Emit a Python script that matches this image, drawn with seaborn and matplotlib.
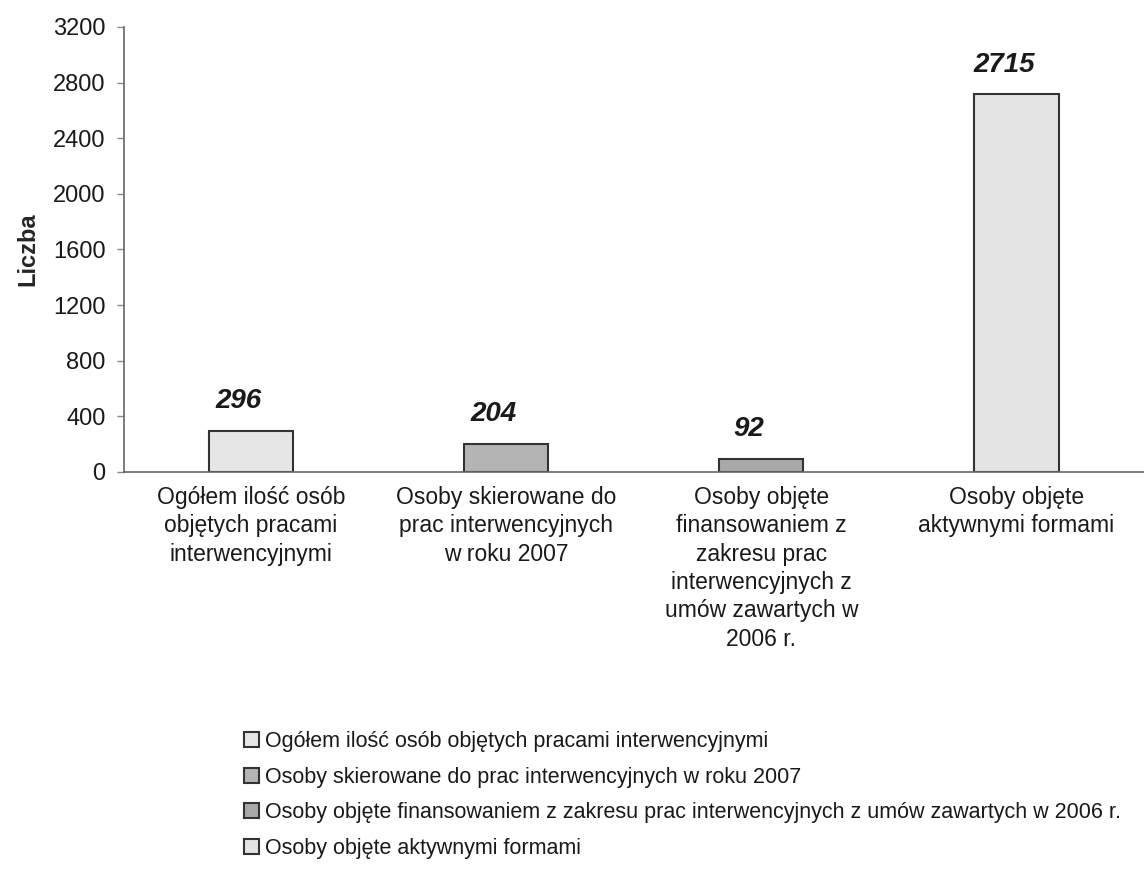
"""
Wykres słupkowy - osoby objęte pracami interwencyjnymi.
"""
import matplotlib
matplotlib.use("Agg")
import matplotlib.pyplot as plt
import pandas as pd
import seaborn as sns

# ── Dane ───────────────────────────────────────────────────────
CATEGORIES = [
    "Ogółem ilość osób objętych pracami interwencyjnymi",
    "Osoby skierowane do prac interwencyjnych w roku 2007",
    "Osoby objęte finansowaniem z zakresu prac interwencyjnych z umów zawartych w 2006 r.",
    "Osoby objęte aktywnymi formami",
]
TICK_LABELS = [
    "Ogółem ilość osób\nobjętych pracami\ninterwencyjnymi",
    "Osoby skierowane do\nprac interwencyjnych\nw roku 2007",
    "Osoby objęte\nfinansowaniem z\nzakresu prac\ninterwencyjnych z\numów zawartych w\n2006 r.",
    "Osoby objęte\naktywnymi formami",
]
VALUES = [296, 204, 92, 2715]
COLORS = ["#e6e6e6", "#b4b4b4", "#a9a9a9", "#e4e4e4"]

Y_TICKS = list(range(0, 3201, 400))

df = pd.DataFrame({"kategoria": CATEGORIES, "liczba": VALUES})

sns.set_style("white")
plt.rcParams["font.family"] = ["Liberation Sans", "DejaVu Sans"]
plt.rcParams["text.color"] = "#1a1a1a"
plt.rcParams["xtick.labelcolor"] = "#1a1a1a"
plt.rcParams["ytick.labelcolor"] = "#1a1a1a"

fig = plt.figure(figsize=(11.44, 8.69), dpi=100)
ax = fig.add_axes([0.108, 0.457, 0.892, 0.512])

sns.barplot(
    data=df, x="kategoria", y="liczba", hue="kategoria",
    palette=COLORS, width=0.33, edgecolor="#333333", linewidth=1.5,
    dodge=False, legend="brief", ax=ax,
)

# Etykiety wartości
for i, v in enumerate(VALUES):
    ax.text(i - 0.05, v + 120, str(v), ha="center", va="bottom",
            fontsize=20, fontweight="bold", fontstyle="italic", color="#1a1a1a")

ax.set_xlim(-0.5, 3.5)
ax.set_ylim(0, 3200)
ax.set_yticks(Y_TICKS)
ax.tick_params(axis="y", labelsize=17, length=5, width=1, color="#888888",
               direction="out", left=True, pad=8)
ax.set_xticks(range(len(TICK_LABELS)))
ax.set_xticklabels(TICK_LABELS, fontsize=16.5, linespacing=1.3)
ax.tick_params(axis="x", length=0, pad=10)
ax.set_xticks([0.5, 1.5, 2.5], minor=True)
ax.tick_params(axis="x", which="minor", length=7, color="#888888", direction="out")

ax.set_xlabel("")
ax.set_ylabel("Liczba", fontsize=17, fontweight="bold", labelpad=10)

for side in ["top", "right"]:
    ax.spines[side].set_visible(False)
ax.spines["left"].set_color("#666666")
ax.spines["bottom"].set_color("#666666")
ax.spines["left"].set_linewidth(1.2)
ax.spines["bottom"].set_linewidth(1.2)

sns.move_legend(
    ax, loc="upper left", bbox_to_anchor=(0.196, 0.181),
    bbox_transform=fig.transFigure, frameon=False, title=None,
    fontsize=15.5, handlelength=0.7, handleheight=0.7, handletextpad=0.3,
    labelspacing=0.68,
)

fig.savefig("out.png", dpi=100)
